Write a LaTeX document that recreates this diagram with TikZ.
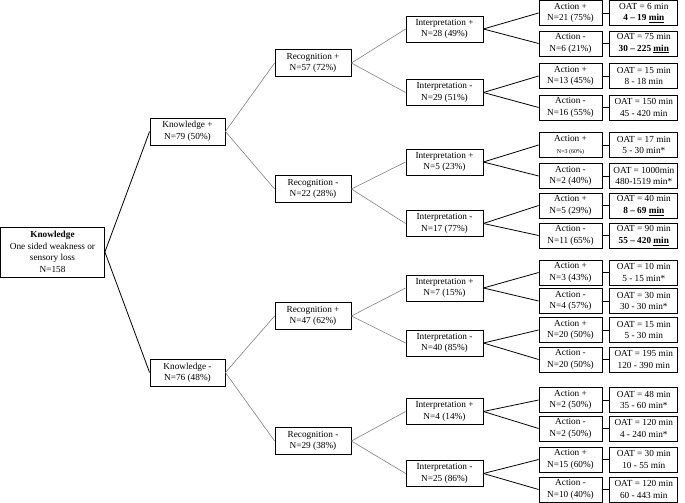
\documentclass[tikz,border=0pt]{standalone}
\usepackage{fontspec}
\setmainfont{Liberation Serif}
\usetikzlibrary{positioning}

\begin{document}
\begin{tikzpicture}[x=1bp, y=-1bp, font=\fontsize{9.3}{11.5}\selectfont, node distance=7bp,
  box/.style={draw, line width=0.8bp, inner sep=1bp, align=center},
  rootbox/.style={box, minimum width=104bp, minimum height=50bp},
  know/.style={box, minimum width=75bp, minimum height=27bp},
  recog/.style={box, minimum width=76bp, minimum height=27bp},
  interp/.style={box, minimum width=77bp, minimum height=26bp},
  act/.style={box, minimum width=63bp, minimum height=25bp},
  oat/.style={box, minimum width=68bp, minimum height=25bp},
  link/.style={line width=0.8bp},
  glink/.style={gray, line width=0.6bp}]
\useasboundingbox (0,0) rectangle (685,503);
% knowledge level
\node[rootbox] (root) at (52.5,252) {\textbf{Knowledge}\\One sided weakness or\\sensory loss\\N=158};
\node[know] (kp) at (187.5,131.5) {Knowledge +\\N=79 (50\%)};
\node[know] (km) at (187.5,372.5) {Knowledge -\\N=76 (48\%)};
% recognition level
\node[recog] (r1) at (313,63) {Recognition +\\N=57 (72\%)};
\node[recog] (r2) at (313,189) {Recognition -\\N=22 (28\%)};
\node[recog] (r3) at (313,316) {Recognition +\\N=47 (62\%)};
\node[recog] (r4) at (313,441) {Recognition -\\N=29 (38\%)};
% interpretation level
\node[interp] (i1) at (444.5,29) {Interpretation +\\N=28 (49\%)};
\node[interp] (i2) at (444.5,92.5) {Interpretation -\\N=29 (51\%)};
\node[interp] (i3) at (444.5,162) {Interpretation +\\N=5 (23\%)};
\node[interp] (i4) at (444.5,223.5) {Interpretation -\\N=17 (77\%)};
\node[interp] (i5) at (444.5,288) {Interpretation +\\N=7 (15\%)};
\node[interp] (i6) at (444.5,343) {Interpretation -\\N=40 (85\%)};
\node[interp] (i7) at (444.5,411.5) {Interpretation +\\N=4 (14\%)};
\node[interp] (i8) at (444.5,473.5) {Interpretation -\\N=25 (86\%)};
% action level
\node[act] (a1) at (570.5,13) {Action +\\N=21 (75\%)};
\node[act] (a2) at (570.5,43.5) {Action -\\N=6 (21\%)};
\node[act] (a3) at (570.5,76) {Action +\\N=13 (45\%)};
\node[act] (a4) at (570.5,107.5) {Action -\\N=16 (55\%)};
\node[act] (a5) at (570.5,145) {Action +\\{\fontsize{6}{7}\selectfont N=3 (60\%)}};
\node[act] (a6) at (570.5,176) {Action -\\N=2 (40\%)};
\node[act] (a7) at (570.5,205.5) {Action +\\N=5 (29\%)};
\node[act] (a8) at (570.5,235.5) {Action -\\N=11 (65\%)};
\node[act] (a9) at (570.5,272.5) {Action +\\N=3 (43\%)};
\node[act] (a10) at (570.5,301) {Action -\\N=4 (57\%)};
\node[act] (a11) at (570.5,330) {Action +\\N=20 (50\%)};
\node[act] (a12) at (570.5,359.5) {Action -\\N=20 (50\%)};
\node[act] (a13) at (570.5,400) {Action +\\N=2 (50\%)};
\node[act] (a14) at (570.5,428.5) {Action -\\N=2 (50\%)};
\node[act] (a15) at (570.5,459.5) {Action +\\N=15 (60\%)};
\node[act] (a16) at (570.5,489.5) {Action -\\N=10 (40\%)};
% onset to arrival times
\node[oat, right=of a1] (o1) {OAT = 6 min\\\textbf{4 – 19 \underline{min}}};
\node[oat, right=of a2] (o2) {OAT = 75 min\\\textbf{30 – 225 \underline{min}}};
\node[oat, right=of a3] (o3) {OAT = 15 min\\8 - 18 min};
\node[oat, right=of a4] (o4) {OAT = 150 min\\45 - 420 min};
\node[oat, right=of a5] (o5) {OAT = 17 min\\5 - 30 min*};
\node[oat, right=of a6] (o6) {OAT = 1000min\\480-1519 min*};
\node[oat, right=of a7] (o7) {OAT = 40 min\\\textbf{8 – 69 \underline{min}}};
\node[oat, right=of a8] (o8) {OAT = 90 min\\\textbf{55 – 420 \underline{min}}};
\node[oat, right=of a9] (o9) {OAT = 10 min\\5 - 15 min*};
\node[oat, right=of a10] (o10) {OAT = 30 min\\30 - 30 min*};
\node[oat, right=of a11] (o11) {OAT = 15 min\\5 - 30 min};
\node[oat, right=of a12] (o12) {OAT = 195 min\\120 - 390 min};
\node[oat, right=of a13] (o13) {OAT = 48 min\\35 - 60 min*};
\node[oat, right=of a14] (o14) {OAT = 120 min\\4 - 240 min*};
\node[oat, right=of a15] (o15) {OAT = 30 min\\10 - 55 min};
\node[oat, right=of a16] (o16) {OAT = 120 min\\60 - 443 min};
% connectors
\draw[link] (root.east) -- (kp.west);
\draw[link] (root.east) -- (km.west);
\foreach \p/\c in {kp/r1, kp/r2, km/r3, km/r4, r1/i1, r1/i2, r2/i3, r2/i4, r3/i5, r3/i6, r4/i7, r4/i8}
  \draw[glink] (\p.east) -- (\c.west);
\foreach \n [evaluate=\n as \i using {int(ceil(\n/2))}] in {1,...,16} {
  \draw[link] (i\i.east) -- (a\n.west);
  \draw[link] (a\n.east) -- (o\n.west);
}
\end{tikzpicture}
\end{document}
